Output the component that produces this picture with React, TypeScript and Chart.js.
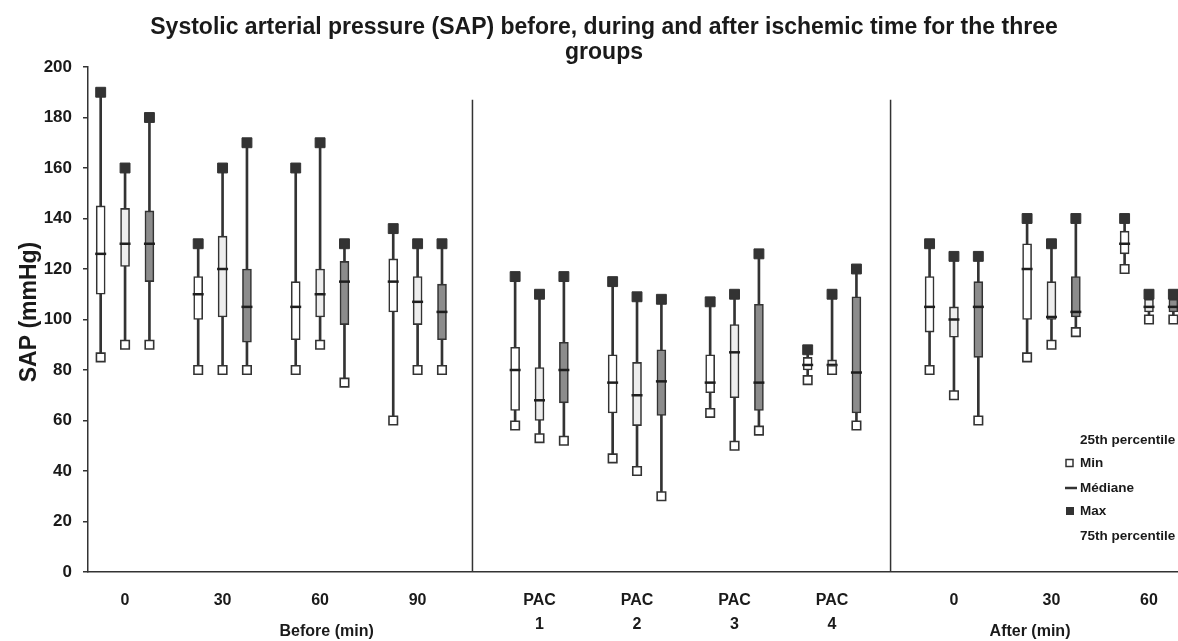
import React, { useEffect, useRef } from "react";
import { Chart, registerables } from "chart.js";

Chart.register(...registerables);

const FONT = "'Liberation Sans', Arial, Helvetica, sans-serif";

// ---- data ----
const timeLabels: (string | string[])[] = [
  "0", "30", "60", "90",
  ["PAC", "1"], ["PAC", "2"], ["PAC", "3"], ["PAC", "4"],
  "0", "30", "60",
];
const timeSection = [0, 0, 0, 0, 1, 1, 1, 1, 2, 2, 2];
const sectionTitles = ["Before (min)", "After (min)"];

// group 1 (white boxes)
const g1Min = [85, 80, 80, 60, 58, 45, 63, 76, 80, 85, 120];
const g1Q1 = [110, 100, 92, 103, 64, 63, 71, 80, 95, 100, 126];
const g1Med = [126, 110, 105, 115, 80, 75, 75, 82, 105, 120, 130];
const g1Q3 = [145, 117, 115, 124, 89, 86, 86, 85, 117, 130, 135];
const g1Max = [190, 130, 160, 136, 117, 115, 107, 88, 130, 140, 140];

// group 2 (light grey boxes)
const g2Min = [90, 80, 90, 80, 53, 40, 50, 80, 70, 90, 100];
const g2Q1 = [121, 101, 101, 98, 60, 58, 69, 80, 93, 100, 103];
const g2Med = [130, 120, 110, 107, 68, 70, 87, 82, 100, 101, 105];
const g2Q3 = [144, 133, 120, 117, 81, 83, 98, 84, 105, 115, 108];
const g2Max = [160, 160, 170, 130, 110, 109, 110, 110, 125, 130, 110];

// group 3 (dark grey boxes)
const g3Min = [90, 80, 75, 80, 52, 30, 56, 58, 60, 95, 100];
const g3Q1 = [115, 91, 98, 92, 67, 62, 64, 63, 85, 101, 103];
const g3Med = [130, 105, 115, 103, 80, 75.5, 75, 79, 105, 103, 105];
const g3Q3 = [143, 120, 123, 114, 91, 88, 106, 109, 115, 117, 108];
const g3Max = [180, 170, 130, 130, 117, 108, 126, 120, 125, 140, 110];

const yTicks = [0, 20, 40, 60, 80, 100, 120, 140, 160, 180, 200];

const TITLE_LINES = [
  "Systolic arterial pressure (SAP) before, during and after ischemic time for the three",
  "groups",
];
const Y_TITLE = "SAP (mmHg)";
const legendTexts = ["25th percentile", "Min", "Médiane", "Max", "75th percentile"];

// layout helpers (slot units on the linear x axis)
const slot = (t: number, g: number) => 4 * t + timeSection[t] + g;
const dividerSlots = [15.25, 32.4];
const dividerTop = 187;
const sectionTitleSlots = [9.27, 38.12];
const X_MIN = -0.52;
const X_MAX = 44.19;

const INK = "#333333";
const boxFills = ["#ffffff", "#ededed", "#8c8c8c"];

export default function App() {
  const ref = useRef<HTMLCanvasElement | null>(null);

  useEffect(() => {
    if (!ref.current) return;
    const groups = [
      { min: g1Min, q1: g1Q1, med: g1Med, q3: g1Q3, max: g1Max },
      { min: g2Min, q1: g2Q1, med: g2Med, q3: g2Q3, max: g2Max },
      { min: g3Min, q1: g3Q1, med: g3Med, q3: g3Q3, max: g3Max },
    ];
    const datasets: any[] = [];
    groups.forEach((g, gi) => {
      datasets.push({
        type: "bar",
        label: "whisker" + gi,
        data: g.min.map((v, t) => ({ x: slot(t, gi), y: [v, g.max[t]] })),
        backgroundColor: INK,
        borderWidth: 0,
        barThickness: 2,
        grouped: false,
        order: 10,
      });
    });
    groups.forEach((g, gi) => {
      datasets.push({
        type: "bar",
        label: "box" + gi,
        data: g.q1.map((v, t) => ({ x: slot(t, gi), y: [v, g.q3[t]] })),
        backgroundColor: boxFills[gi],
        borderColor: INK,
        borderWidth: 1.6,
        borderSkipped: false,
        barThickness: 9,
        grouped: false,
        order: 5,
      });
    });
    groups.forEach((g, gi) => {
      datasets.push({
        type: "line",
        label: "median" + gi,
        data: g.med.map((v, t) => ({ x: slot(t, gi), y: v })),
        showLine: false,
        pointStyle: "line",
        pointRadius: 5.5,
        pointBorderColor: "#1e1e1e",
        pointBorderWidth: 2.5,
        borderColor: "#1e1e1e",
        order: 2,
      });
      datasets.push({
        type: "line",
        label: "min" + gi,
        data: g.min.map((v, t) => ({ x: slot(t, gi), y: v })),
        showLine: false,
        pointStyle: "rect",
        pointRadius: 6,
        pointBackgroundColor: "#ffffff",
        pointBorderColor: INK,
        pointBorderWidth: 1.6,
        order: 1,
      });
      datasets.push({
        type: "line",
        label: "max" + gi,
        data: g.max.map((v, t) => ({ x: slot(t, gi), y: v })),
        showLine: false,
        pointStyle: "rect",
        pointRadius: 7,
        pointBackgroundColor: INK,
        pointBorderColor: INK,
        pointBorderWidth: 1,
        order: 1,
      });
    });
    dividerSlots.forEach((d, i) => {
      datasets.push({
        type: "line",
        label: "divider" + i,
        data: [
          { x: d, y: 0 },
          { x: d, y: dividerTop },
        ],
        borderColor: INK,
        borderWidth: 1.5,
        pointRadius: 0,
        order: 20,
      });
    });

    const tickSlots = timeLabels.map((_, t) => slot(t, 1));

    const textPlugin = {
      id: "textPlugin",
      afterDraw(chart: any) {
        const ctx = chart.ctx as CanvasRenderingContext2D;
        const xs = chart.scales.x;
        ctx.save();
        ctx.fillStyle = "#1a1a1a";
        ctx.textAlign = "center";
        ctx.textBaseline = "alphabetic";
        ctx.font = `bold 23px ${FONT}`;
        ctx.fillText(TITLE_LINES[0], 604, 34);
        ctx.fillText(TITLE_LINES[1], 604, 59);

        ctx.save();
        ctx.translate(30, 312);
        ctx.rotate(-Math.PI / 2);
        ctx.textBaseline = "middle";
        ctx.font = `bold 23px ${FONT}`;
        ctx.fillText(Y_TITLE, 0, 0);
        ctx.restore();

        ctx.font = `bold 16px ${FONT}`;
        ctx.textBaseline = "middle";
        sectionTitles.forEach((s, i) => {
          ctx.fillText(s, xs.getPixelForValue(sectionTitleSlots[i]), 632);
        });

        // legend
        ctx.font = `bold 13.5px ${FONT}`;
        ctx.textAlign = "left";
        ctx.textBaseline = "middle";
        const lx = 1080;
        const ly = [440, 463, 488, 511, 536];
        legendTexts.forEach((s, i) => ctx.fillText(s, lx, ly[i]));
        ctx.lineWidth = 1.5;
        ctx.strokeStyle = INK;
        ctx.fillStyle = "#ffffff";
        ctx.fillRect(1066, ly[1] - 3.5, 7, 7);
        ctx.strokeRect(1066, ly[1] - 3.5, 7, 7);
        ctx.lineWidth = 2.5;
        ctx.beginPath();
        ctx.moveTo(1065, ly[2]);
        ctx.lineTo(1077, ly[2]);
        ctx.stroke();
        ctx.fillStyle = INK;
        ctx.fillRect(1066, ly[3] - 4, 8, 8);
        ctx.restore();
      },
    };

    const chart = new Chart(ref.current, {
      type: "bar",
      data: { datasets },
      plugins: [textPlugin],
      options: {
        responsive: false,
        animation: false,
        events: [],
        layout: { autoPadding: false, padding: { top: 67, right: 0, left: 0, bottom: 0 } },
        plugins: {
          legend: { display: false },
          tooltip: { enabled: false },
          title: { display: false },
        },
        scales: {
          x: {
            type: "linear",
            min: X_MIN,
            max: X_MAX,
            offset: false,
            grid: { display: false, drawTicks: true, tickLength: 17 },
            border: { display: true, color: INK, width: 1.5 },
            afterBuildTicks: (scale: any) => {
              scale.ticks = tickSlots.map((v) => ({ value: v }));
            },
            afterFit: (scale: any) => {
              scale.height = 69;
              scale.paddingLeft = 0;
              scale.paddingRight = 0;
            },
            ticks: {
              autoSkip: false,
              maxRotation: 0,
              minRotation: 0,
              padding: 0,
              color: "#1a1a1a",
              font: { family: FONT, size: 16, weight: "bold", lineHeight: 1.5 },
              callback: (_v: any, i: number) => timeLabels[i],
            },
          },
          y: {
            type: "linear",
            min: 0,
            max: 200,
            afterBuildTicks: (scale: any) => {
              scale.ticks = yTicks.map((v) => ({ value: v }));
            },
            afterFit: (scale: any) => {
              scale.width = 88;
            },
            grid: {
              drawOnChartArea: false,
              drawTicks: true,
              tickLength: 5,
              color: INK,
              lineWidth: 1.5,
            },
            border: { display: true, color: INK, width: 1.5 },
            ticks: {
              padding: 11,
              color: "#1a1a1a",
              font: { family: FONT, size: 17, weight: "bold" },
            },
          },
        },
      } as any,
    });
    return () => chart.destroy();
  }, []);

  return (
    <div style={{ position: "fixed", left: 0, top: 0, width: 1178, height: 641, background: "#fff" }}>
      <canvas ref={ref} width={1178} height={641} style={{ display: "block" }} />
    </div>
  );
}
